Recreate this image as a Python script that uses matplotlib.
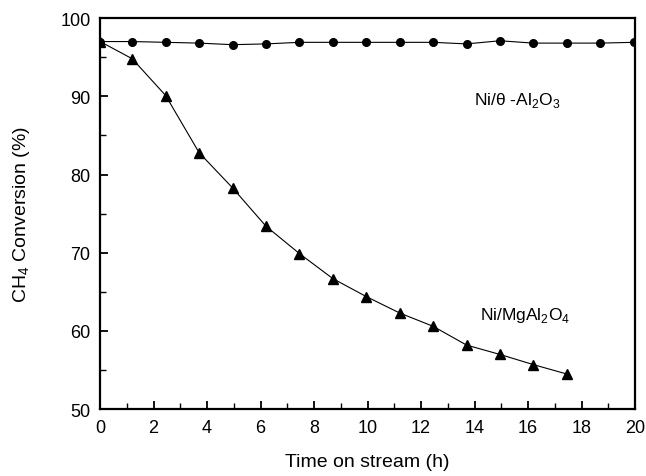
import matplotlib
matplotlib.use("Agg")
import matplotlib.pyplot as plt
from matplotlib.ticker import MultipleLocator

plt.rcParams['font.family'] = ['Liberation Sans', 'DejaVu Sans']
plt.rcParams['mathtext.fontset'] = 'custom'
plt.rcParams['mathtext.rm'] = 'Liberation Sans'

# time on stream (h)
time_h = [0, 1.2, 2.45, 3.7, 4.95, 6.2, 7.45, 8.7, 9.95, 11.2, 12.45,
          13.7, 14.95, 16.2, 17.45, 18.7, 19.95]
# Ni/theta-Al2O3 conversion (%)
conv_al2o3 = [97.0, 97.0, 96.9, 96.8, 96.6, 96.7, 96.9, 96.9, 96.9, 96.9,
              96.9, 96.7, 97.1, 96.8, 96.8, 96.8, 96.9]
# Ni/MgAl2O4 conversion (%)
conv_mgal = [97.0, 94.8, 90.1, 82.8, 78.3, 73.4, 69.9, 66.7, 64.4, 62.3,
             60.6, 58.2, 57.0, 55.7, 54.5]

fig = plt.figure(figsize=(6.46, 4.77), dpi=100)
ax = fig.add_axes([0.155, 0.140, 0.828, 0.820])

ax.plot(time_h, conv_al2o3, color='black', lw=0.8, marker='o', ms=5.5)
ax.plot(time_h[:len(conv_mgal)], conv_mgal, color='black', lw=0.8, marker='^', ms=7)

ax.text(15.6, 89.6, 'Ni/θ -Al$_2$O$_3$', fontsize=12.5, ha='center', va='center')
ax.text(15.9, 62.1, 'Ni/MgAl$_2$O$_4$', fontsize=12.5, ha='center', va='center')

ax.set_xlim(0, 20)
ax.set_ylim(50, 100)
ax.xaxis.set_major_locator(MultipleLocator(2))
ax.xaxis.set_minor_locator(MultipleLocator(1))
ax.yaxis.set_major_locator(MultipleLocator(10))
ax.yaxis.set_minor_locator(MultipleLocator(5))
ax.tick_params(which='both', direction='in', labelsize=13)
ax.tick_params(which='major', length=6, width=1.3, pad=7)
ax.tick_params(which='minor', length=4, width=1.0)
for s in ax.spines.values():
    s.set_linewidth(1.6)

ax.set_xlabel('Time on stream (h)', fontsize=14, labelpad=12)
ax.set_ylabel(r'CH$_4$ Conversion (%)', fontsize=14, labelpad=20)

fig.savefig('out.png', dpi=100)
